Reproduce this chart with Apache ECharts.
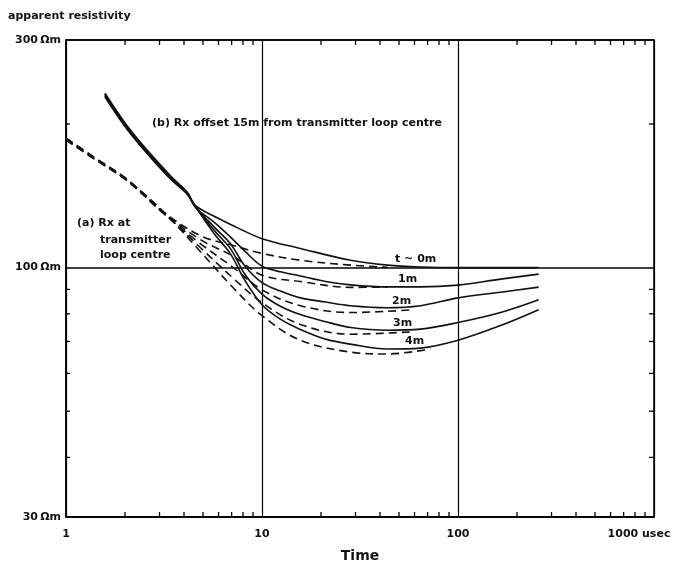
<!DOCTYPE html>
<html><head><meta charset="utf-8">
<script src="https://cdn.jsdelivr.net/npm/echarts/dist/echarts.min.js"></script>
<style>html,body{margin:0;padding:0;background:#fff}#c{width:680px;height:568px}</style>
</head><body><div id="c"></div>
<script>
// axis ticks
const xTickLabels = [1, 10, 100, 1000];
const yTickLabels = [30, 100, 300];
const xMinorTicks = [2,3,4,5,6,7,8,9,20,30,40,50,60,70,80,90,200,300,400,500,600,700,800,900];
const yMinorTicks = [40,50,60,70,80,90,200];

// (b) Rx offset 15 m from transmitter loop centre (solid) : [time usec, apparent resistivity Ohm m]
const solid0m = [[1.58,230],[2.0,199],[2.47,179],[3.4,155],[4.15,144],[4.56,135],[5.77,127.8],[7.13,122.4],[10,115],[15.7,109.7],[28.3,103.6],[43.7,101.2],[64.4,100.3],[100,100],[258,100]];
const solid1m = [[1.58,232],[2.0,201],[2.47,180.5],[3.4,156],[4.15,143.5],[4.56,134],[5.77,124],[6.89,116],[8.22,108],[10,100.7],[12.4,98],[15.7,96],[21.1,93.5],[28.3,92],[43.7,91.1],[64.4,91.1],[100,91.9],[165,94.6],[258,96.9]];
const solid2m = [[1.58,228],[2.0,197.5],[2.47,177.5],[3.4,153.5],[4.15,142.5],[4.56,134.3],[5.77,121],[6.89,112.3],[8.22,100.5],[10,93],[12.4,89.3],[15.7,86.4],[21.1,84.7],[28.3,83.2],[43.7,82.4],[64.4,83.2],[100,86.4],[165,88.8],[258,91]];
const solid3m = [[1.58,231],[2.0,200],[2.47,178.5],[3.4,154.5],[4.15,143],[4.56,134.5],[5.77,119],[6.89,109.7],[8.22,96.5],[10,88],[12.4,83],[15.7,79.7],[21.1,77],[28.3,74.9],[43.7,73.9],[64.4,74.3],[100,76.7],[165,80.5],[258,85.6]];
const solid4m = [[1.58,229],[2.0,198.5],[2.47,178],[3.4,154],[4.15,143],[4.56,134.5],[5.77,117],[6.89,107],[8.22,93.7],[10,83.6],[12.4,78],[15.7,74.2],[21.1,70.8],[28.3,69.1],[43.7,67.5],[64.4,67.8],[100,70.4],[165,75.6],[258,81.6]];

// (a) Rx at transmitter loop centre (dashed)
const dashed0m = [[1,186],[1.374,170],[2.05,152.5],[3.13,131],[4.84,116.7],[7.13,111.3],[10,107.1],[15.7,103.6],[28.3,101.2],[43.7,100.1]];
const dashed1m = [[1,187],[1.374,171],[2.05,153.2],[3.13,130.5],[4.84,114.5],[7.13,105.6],[10,96.4],[15.7,93.5],[28.3,90.9],[43.7,91]];
const dashed2m = [[1,185],[1.374,169.5],[2.05,152],[3.13,130],[4.84,112.3],[7.13,100],[10,89.8],[15.7,83.2],[28.3,80.5],[57.3,81.5]];
const dashed3m = [[1,186.5],[1.374,170.5],[2.05,152.3],[3.13,130.5],[4.84,110.2],[7.13,95],[10,84.4],[15.7,76],[28.3,72.5],[57.3,73.3]];
const dashed4m = [[1,185.5],[1.374,169.8],[2.05,152.7],[3.13,131.2],[4.84,108.1],[7.13,90.7],[10,79.3],[15.7,70.4],[28.3,66.5],[43.7,65.9],[72.4,67.5]];

const FONT = 'DejaVu Sans';
const chart = echarts.init(document.getElementById('c'), null, {renderer: 'canvas'});

function curve(name, data, dashed) {
  return {
    type: 'line', name: name, data: data, symbol: 'none', showSymbol: false,
    smooth: 0.35, silent: true, animation: false, z: 3,
    lineStyle: {color: '#111', width: 1.6, type: dashed ? [8, 5] : 'solid'}
  };
}

const xMin = xTickLabels[0], xMax = xTickLabels[xTickLabels.length - 1];
const yMin = yTickLabels[0], yMax = yTickLabels[yTickLabels.length - 1];

const tickXSeries = {
  type: 'custom', silent: true, animation: false, clip: false, z: 5,
  data: xMinorTicks.map(v => [v, yTickLabels[1]]),
  renderItem: function (params, api) {
    const v = api.value(0);
    const t = api.coord([v, yMax]);
    const b = api.coord([v, yMin]);
    const st = {stroke: '#000', lineWidth: 1.3};
    return {type: 'group', children: [
      {type: 'line', shape: {x1: t[0], y1: t[1], x2: t[0], y2: t[1] + 5}, style: st},
      {type: 'line', shape: {x1: b[0], y1: b[1], x2: b[0], y2: b[1] - 5}, style: st}
    ]};
  }
};
const tickYSeries = {
  type: 'custom', silent: true, animation: false, clip: false, z: 5,
  data: yMinorTicks.map(v => [xTickLabels[1], v]),
  renderItem: function (params, api) {
    const v = api.value(1);
    const l = api.coord([xMin, v]);
    const r = api.coord([xMax, v]);
    const st = {stroke: '#000', lineWidth: 1.3};
    return {type: 'group', children: [
      {type: 'line', shape: {x1: l[0], y1: l[1], x2: l[0] + 4, y2: l[1]}, style: st},
      {type: 'line', shape: {x1: r[0], y1: r[1], x2: r[0] - 5, y2: r[1]}, style: st}
    ]};
  }
};

function txt(text, left, top, size) {
  return {type: 'text', left: left, top: top, silent: true, z: 10,
    style: {text: text, fill: '#111', font: 'bold ' + (size || 11) + 'px "' + FONT + '"'}};
}

const option = {
  backgroundColor: '#fff',
  animation: false,
  title: {text: 'apparent resistivity', left: 8, top: 11, padding: 0,
    textStyle: {fontFamily: FONT, fontSize: 11, fontWeight: 'bold', color: '#111'}},
  grid: {left: 66, right: 26, top: 40, bottom: 46, show: true, borderColor: '#000', borderWidth: 1.5, backgroundColor: 'transparent'},
  xAxis: {
    type: 'log', logBase: 10, min: xMin, max: xMax,
    name: 'Time', nameLocation: 'middle', nameGap: 32,
    nameTextStyle: {fontFamily: FONT, fontSize: 14, fontWeight: 'bold', color: '#111'},
    axisLine: {show: true, lineStyle: {color: '#000', width: 1.5}},
    axisTick: {show: false},
    splitLine: {show: true, lineStyle: {color: '#000', width: 1.2}},
    axisLabel: {
      margin: 12, showMinLabel: true, showMaxLabel: true,
      fontFamily: FONT, fontSize: 11, fontWeight: 'bold', color: '#111',
      formatter: function (v) {
        const r = Math.round(v);
        return r === xMax ? '{u|' + r + ' usec}' : String(r);
      },
      rich: {u: {fontFamily: FONT, fontSize: 11, fontWeight: 'bold', color: '#111', padding: [0, 30, 0, 0]}}
    }
  },
  yAxis: {
    type: 'log', logBase: 10, min: yMin, max: yMax,
    axisLine: {show: true, lineStyle: {color: '#000', width: 1.5}},
    axisTick: {show: false},
    splitLine: {show: true, lineStyle: {color: '#000', width: 1.7}},
    axisLabel: {
      margin: 5, showMinLabel: true, showMaxLabel: true,
      fontFamily: FONT, fontSize: 11, fontWeight: 'bold', color: '#111',
      formatter: function (v) { return Math.round(v) + '\u2009Ωm'; }
    }
  },
  graphic: [
    txt('(b) Rx offset 15m from transmitter loop centre', 152, 118),
    txt('(a) Rx at', 77, 218),
    txt('transmitter', 100, 235),
    txt('loop centre', 100, 250),
    txt('t ~ 0m', 395, 254),
    txt('1m', 398, 274),
    txt('2m', 392, 296),
    txt('3m', 393, 318),
    txt('4m', 405, 336)
  ],
  series: [
    curve('b 0m', solid0m, false),
    curve('b 1m', solid1m, false),
    curve('b 2m', solid2m, false),
    curve('b 3m', solid3m, false),
    curve('b 4m', solid4m, false),
    curve('a 0m', dashed0m, true),
    curve('a 1m', dashed1m, true),
    curve('a 2m', dashed2m, true),
    curve('a 3m', dashed3m, true),
    curve('a 4m', dashed4m, true),
    tickXSeries,
    tickYSeries
  ]
};
chart.setOption(option);
</script>
</body></html>
